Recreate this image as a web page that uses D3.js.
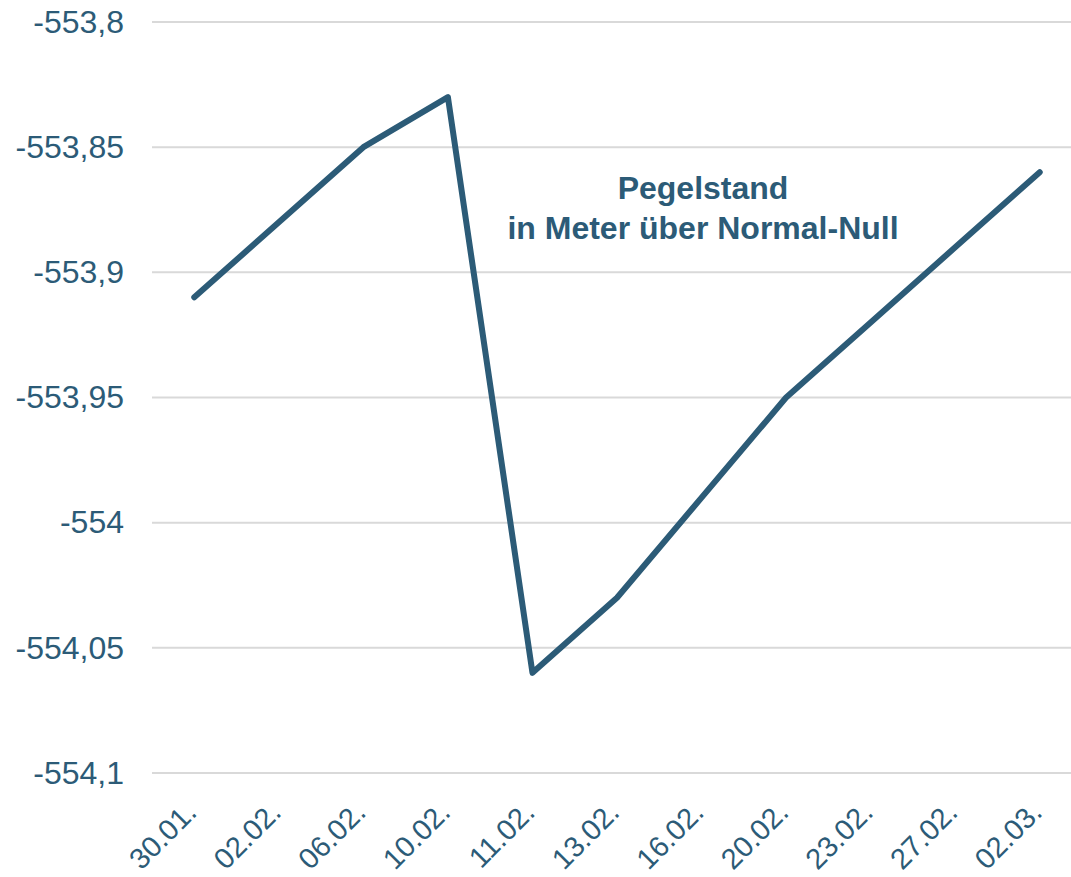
<!DOCTYPE html>
<html>
<head>
<meta charset="utf-8">
<script src="https://cdn.jsdelivr.net/npm/d3@7"></script>
<style>
  body { margin: 0; background: #fff; }
  svg { display: block; font-family: "Liberation Sans", Arial, sans-serif; }
</style>
</head>
<body>
<div id="chart"></div>
<script>
// Pegelstand chart

const FRAME_WIDTH = 1071;
const FRAME_HEIGHT = 877;
const MARGINS = {left: 152, right: -11, top: 22, bottom: 104};

const COLOR = "#2c5b77";

// data
const dates = ["30.01.", "02.02.", "06.02.", "10.02.", "11.02.", "13.02.",
               "16.02.", "20.02.", "23.02.", "27.02.", "02.03."];
const levels = [-553.91, -553.88, -553.85, -553.83, -554.06, -554.03,
                -553.99, -553.95, -553.92, -553.89, -553.86];
const yTicks = [-554.1, -554.05, -554, -553.95, -553.9, -553.85, -553.8];
const titleLines = ["Pegelstand", "in Meter über Normal-Null"];

const FRAME = d3.select("#chart")
  .append("svg")
    .attr("width", FRAME_WIDTH)
    .attr("height", FRAME_HEIGHT);

const X_SCALE = d3.scaleBand()
  .domain(dates)
  .range([MARGINS.left, FRAME_WIDTH - MARGINS.right]);

const Y_SCALE = d3.scaleLinear()
  .domain([-554.1, -553.8])
  .range([FRAME_HEIGHT - MARGINS.bottom, MARGINS.top]);

const fmt = (d) => String(+d.toFixed(2)).replace(".", ",");

// grid lines
FRAME.append("g")
  .selectAll("line")
  .data(yTicks)
  .enter()
  .append("line")
    .attr("x1", MARGINS.left)
    .attr("x2", FRAME_WIDTH)
    .attr("y1", (d) => Y_SCALE(d))
    .attr("y2", (d) => Y_SCALE(d))
    .attr("stroke", "#d9d9d9")
    .attr("stroke-width", 2);

// y axis
const yAxis = FRAME.append("g")
  .attr("transform", "translate(" + (MARGINS.left - 28) + ",0)")
  .call(d3.axisLeft(Y_SCALE).tickValues(yTicks).tickFormat(fmt).tickSize(0).tickPadding(0));
yAxis.select(".domain").remove();
yAxis.selectAll("text")
  .attr("font-size", "32px")
  .attr("font-family", "Liberation Sans, Arial, sans-serif")
  .attr("fill", COLOR);

// x axis, labels turned 45 degrees
const xAxis = FRAME.append("g")
  .attr("transform", "translate(0," + (FRAME_HEIGHT - MARGINS.bottom) + ")")
  .call(d3.axisBottom(X_SCALE).tickSize(0).tickPadding(0));
xAxis.select(".domain").remove();
xAxis.selectAll("text")
  .attr("font-size", "29px")
  .attr("font-family", "Liberation Sans, Arial, sans-serif")
  .attr("fill", COLOR)
  .attr("text-anchor", "end")
  .attr("dy", 0)
  .attr("y", 0)
  .attr("transform", "translate(4,41) rotate(-45)");

// line
const line = d3.line()
  .x((d, i) => X_SCALE(dates[i]) + X_SCALE.bandwidth() / 2)
  .y((d) => Y_SCALE(d));

FRAME.append("path")
  .datum(levels)
  .attr("d", line)
  .attr("fill", "none")
  .attr("stroke", COLOR)
  .attr("stroke-width", 6)
  .attr("stroke-linecap", "round")
  .attr("stroke-linejoin", "round");

// title
FRAME.append("text")
  .attr("x", 703)
  .attr("y", 199)
  .attr("text-anchor", "middle")
  .attr("font-size", "32px")
  .attr("font-weight", "bold")
  .attr("fill", COLOR)
  .selectAll("tspan")
  .data(titleLines)
  .enter()
  .append("tspan")
    .attr("x", 703)
    .attr("dy", (d, i) => i === 0 ? 0 : 40)
    .text((d) => d);
</script>
</body>
</html>
